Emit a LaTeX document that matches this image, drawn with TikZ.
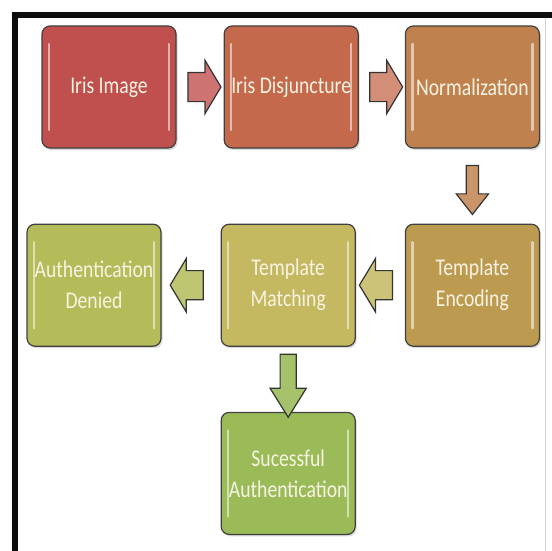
\documentclass[tikz,border=0pt]{standalone}
\usepackage{fontspec}
\setmainfont{Carlito}[FakeStretch=0.82]
\usetikzlibrary{positioning}
\usetikzlibrary{calc}
\usetikzlibrary{shapes.arrows}
\usetikzlibrary{shadows}

\definecolor{imgred}{HTML}{C0504D}
\definecolor{disorange}{HTML}{C4694B}
\definecolor{normtan}{HTML}{BF824F}
\definecolor{encgold}{HTML}{BC9A50}
\definecolor{matchyellow}{HTML}{C4B860}
\definecolor{deniedolive}{HTML}{B3BC58}
\definecolor{sucgreen}{HTML}{9BBB59}
\definecolor{textcream}{HTML}{F7F3E3}

\tikzset{
    stage/.style={draw=black!75, line width=1.2pt, rounded corners=8pt,
        minimum width=134pt, minimum height=122pt, inner sep=0pt,
        text=textcream, align=center, font=\fontsize{24}{31}\selectfont,
        drop shadow={opacity=0.3, shadow xshift=1.5pt, shadow yshift=-2pt},
        path picture={
            \draw[white, opacity=0.55, line width=2.5pt, line cap=round]
                ($(path picture bounding box.north west)+(7pt,-18pt)$) --
                ($(path picture bounding box.south west)+(7pt,18pt)$);
            \draw[white, opacity=0.55, line width=2.5pt, line cap=round]
                ($(path picture bounding box.north east)+(-7pt,-18pt)$) --
                ($(path picture bounding box.south east)+(-7pt,18pt)$);
        }},
    flow/.style={single arrow, draw=black!80, line width=1.2pt,
        inner xsep=0pt, inner ysep=14pt, single arrow head extend=12pt,
        single arrow tip angle=118, minimum height=33pt},
    flowdown/.style={single arrow, draw=black!80, line width=1.2pt,
        inner xsep=5.5pt, inner ysep=0pt, single arrow head extend=10pt,
        shape border rotate=270}
}

\begin{document}
\begin{tikzpicture}[x=1pt, y=-1pt]
    \useasboundingbox (0,0) rectangle (551,551);

    % frame
    \draw[line width=6pt, black!95] (15,560) -- (15,15) -- (560,15);
    \draw[black!18, line width=0.8pt] (545,18) -- (545,551);

    % stages
    \node[stage, fill=imgred] (img) at (109,87) {Iris Image};
    \node[stage, fill=disorange, right=47pt of img] (dis) {Iris Disjuncture};
    \node[stage, fill=normtan, right=46pt of dis] (norm) {Normalization};
    \node[stage, fill=encgold, below=75pt of norm] (enc) {Template\\Encoding};
    \node[stage, fill=matchyellow, left=49pt of enc] (match) {Template\\Matching};
    \node[stage, fill=deniedolive, left=59pt of match] (denied) {Authentication\\Denied};
    \node[stage, fill=sucgreen, below=65pt of match] (suc) {Sucessful\\Authentication};

    % arrows
    \node[flow, fill=imgred!80!white] (a1) at ($(img.east)!0.5!(dis.west)$) {};
    \node[flow, fill=disorange!75!white] (a2) at ($(dis.east)!0.5!(norm.west)$) {};
    \node[flowdown, fill=normtan!85!white, minimum height=49pt,
        single arrow tip angle=76] (a3) at ($(norm.south)!0.5!(enc.north)$) {};
    \node[flow, fill=matchyellow!85!white, shape border rotate=180] (a4)
        at ($(enc.west)!0.5!(match.east)$) {};
    \node[flow, fill=deniedolive!85!white, shape border rotate=180] (a5)
        at ($(match.west)!0.5!(denied.east)$) {};
    \node[flowdown, fill=sucgreen!90!white, minimum height=63pt, inner xsep=7.5pt,
        single arrow tip angle=64] (a6) at ($(match.south)!0.5!(suc.north)$) {};
\end{tikzpicture}
\end{document}
